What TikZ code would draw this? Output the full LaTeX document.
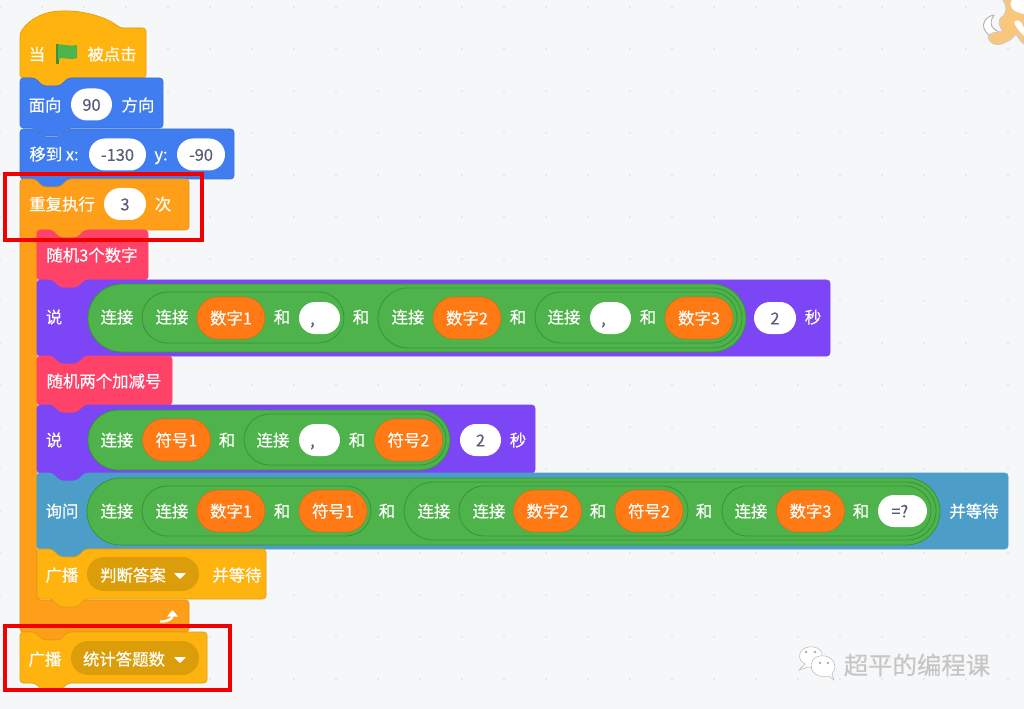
\documentclass[tikz,border=0pt]{standalone}
\usepackage{fontspec}
\setmainfont[FakeBold=0.4]{Noto Sans CJK SC}
\usetikzlibrary{positioning,fit,arrows.meta}

\definecolor{canvasgrey}{HTML}{F6F7F8}
\definecolor{dotgrey}{HTML}{DADBDD}
\definecolor{eventyellow}{HTML}{FFB30F}
\definecolor{eventedge}{HTML}{E09E10}
\definecolor{motionblue}{HTML}{407DF0}
\definecolor{motionedge}{HTML}{3A70D8}
\definecolor{controlorange}{HTML}{FF9E18}
\definecolor{controledge}{HTML}{E58E15}
\definecolor{mypink}{HTML}{FF4268}
\definecolor{looksviolet}{HTML}{7C45F5}
\definecolor{sensingblue}{HTML}{4C9EC8}
\definecolor{joingreen}{HTML}{4DB34A}
\definecolor{joinedge}{HTML}{389438}
\definecolor{varorange}{HTML}{FF7A14}
\definecolor{varedge}{HTML}{DE6A12}
\definecolor{menuyellow}{HTML}{DB9E0A}
\definecolor{slotgrey}{HTML}{575E75}
\definecolor{catpeach}{HTML}{F9C77B}

% block with a notch on top and a bump below
\newcommand{\stackblock}[5]{
  \draw[#1,shift={(#2,#3)},rounded corners=2.5pt]
    (0,0) -- (15,0) -- (23,8) -- (40,8) -- (48,0) -- (#4,0) -- (#4,#5) --
    (48,#5) -- (40,#5+8) -- (23,#5+8) -- (15,#5) -- (0,#5) -- cycle;
}

\begin{document}
\begin{tikzpicture}[
  x=0.75pt,
  y=-0.75pt,
  hatblock/.style={fill=eventyellow,draw=eventedge,line width=0.5pt},
  moveblock/.style={fill=motionblue,draw=motionedge,line width=0.5pt},
  loopblock/.style={fill=controlorange,draw=controledge,line width=0.5pt},
  ownblock/.style={fill=mypink,draw=mypink,line width=0.5pt},
  sayblock/.style={fill=looksviolet,draw=looksviolet,line width=0.5pt},
  askblock/.style={fill=sensingblue,draw=sensingblue,line width=0.5pt},
  wordlabel/.style={
    text=white,
    inner sep=0em,
    font=\fontsize{12.3pt}{14pt}\selectfont,
    text height=10.5pt,
    text depth=1pt
  },
  slotpill/.style={
    wordlabel,
    rectangle,
    rounded corners=12pt,
    fill=white,
    text=slotgrey,
    minimum width=#1*0.75pt,
    minimum height=24pt,
    outer sep=0pt
  },
  varpill/.style={
    wordlabel,
    rectangle,
    rounded corners=15.7pt,
    fill=varorange,
    draw=varedge,
    line width=0.4pt,
    minimum width=51pt,
    minimum height=31.5pt,
    outer sep=0pt
  },
  menupill/.style={
    rectangle,
    rounded corners=12.7pt,
    fill=menuyellow,
    inner sep=0em,
    outer sep=0pt
  },
  joingroup/.style={
    rectangle,
    rounded corners=#1*0.375pt,
    fill=joingreen,
    draw=joinedge,
    line width=0.6pt,
    inner sep=0em,
    outer sep=0pt
  },
  redframe/.style={
    rectangle,
    draw=red!95!black,
    line width=2.4pt,
    inner sep=0em,
    outer sep=0pt
  }]
  \fill[canvasgrey] (0,0) rectangle (1024,709);
  \useasboundingbox (0,0) rectangle (1024,709);
  \foreach \col in {0,...,24}
    \foreach \row in {0,...,16}
      \fill[dotgrey] (42*\col,7+42*\row) circle (0.6pt);

  % sprite in the corner
  \draw[gray!60,fill=white,line width=0.7pt] (994,15) .. controls (982,17) and (979,30) .. (992,37)
    -- (1000,32) .. controls (992,30) and (988,24) .. (994,15);
  \draw[gray!40,fill=catpeach,line width=0.7pt] (1024,0) -- (1003,0) .. controls (1006,6) and (1008,10) .. (1003,16)
    .. controls (996,20) and (1000,28) .. (1003,31) .. controls (996,32) and (988,33) .. (988,37)
    .. controls (990,46) and (1000,46) .. (1006,42) .. controls (1012,40) and (1014,36) .. (1016,34)
    .. controls (1018,38) and (1021,42) .. (1024,44) -- cycle;
  \fill[white] (1024,0) -- (1012,0) .. controls (1008,6) and (1012,12) .. (1024,14) -- cycle;
  \fill[white] (1014,22) .. controls (1018,18) and (1022,22) .. (1024,28) -- (1024,36) .. controls (1020,32) and (1016,28) .. (1014,22);

  % when flag clicked
  \draw[hatblock,rounded corners=2.5pt] (20,78) -- (20,33) .. controls (30,18) and (46,11) .. (64,11)
    .. controls (86,11) and (108,18) .. (120,28) -- (146,28) -- (146,78) -- (68,78) -- (60,87) -- (43,87) -- (35,78) -- cycle;
  \node[wordlabel] (hatWhen) at (37,54) {当};
  \draw[joinedge,line width=1.6pt] (57.5,44) -- (57.5,64);
  \fill[joingreen] (58,45) .. controls (63,43) and (67,47) .. (77,45) -- (77,58) .. controls (68,61) and (63,56) .. (58,59) -- cycle;
  \node[wordlabel] (hatClick) at (112,54) {被点击};

  \stackblock{moveblock}{20}{78}{143}{50}
  \node[wordlabel] (faceText) at (45,105) {面向};
  \node[slotpill=41] (faceSlot) at (91.5,104.5) {90};
  \node[wordlabel] (faceDir) at (138,105) {方向};

  \stackblock{moveblock}{20}{129}{214}{50}
  \node[wordlabel] (gotoText) at (54,154) {移到 x:};
  \node[slotpill=57] (gotoX) at (117.5,154.5) {-130};
  \node[wordlabel] (gotoY) at (161,154) {y:};
  \node[slotpill=48] (gotoYSlot) at (201,154.5) {-90};

  % repeat block
  \draw[loopblock,shift={(20,179)},rounded corners=2.5pt]
    (0,0) -- (15,0) -- (23,8) -- (40,8) -- (48,0) -- (169,0) -- (169,51) -- (65,51) -- (57,59) -- (40,59) -- (32,51) --
    (17,51) -- (17,421) -- (169,421) -- (169,453) -- (48,453) -- (40,461) -- (23,461) -- (15,453) -- (0,453) -- cycle;
  \node[wordlabel] (loopText) at (62,204) {重复执行};
  \node[slotpill=42] (loopSlot) at (125,204) {3};
  \node[wordlabel] (loopTimes) at (163,204) {次};
  \draw[white,line width=1.8pt,-{Triangle[width=8pt,length=5pt]}] (160,621.5) .. controls (168,622) and (172.5,618) .. (172.5,610);

  \stackblock{ownblock}{37}{230}{111}{50}
  \node[wordlabel] (ownDigits) at (92,255) {随机3个数字};

  % say the three numbers
  \stackblock{sayblock}{37}{280}{793}{76}
  \node[wordlabel] (sayA) at (54,317) {说};
  \node[joingroup=68,fit={(88,284)(746,352)}] (sayAjoin) {};
  \node[wordlabel] (sayAjoinText) at (117,317) {连接};
  \node[joingroup=51,fit={(142,292)(344,343)}] (sayAleft) {};
  \node[wordlabel] (sayAleftText) at (172,317) {连接};
  \node[varpill] (sayAnumA) at (231,318) {数字1};
  \node[wordlabel] (sayAandA) at (282,317) {和};
  \node[slotpill=41] (sayAcommaA) at (319.5,318) {,\hspace*{10.5pt}};
  \node[wordlabel] (sayAandB) at (361,317) {和};
  \node[joingroup=60,fit={(378,288)(742,348)}] (sayAright) {};
  \node[wordlabel] (sayArightText) at (408,317) {连接};
  \node[varpill] (sayAnumB) at (467,318) {数字2};
  \node[wordlabel] (sayAandC) at (518,317) {和};
  \node[joingroup=51,fit={(535,292)(737,343)}] (sayAinner) {};
  \node[wordlabel] (sayAinnerText) at (564,317) {连接};
  \node[slotpill=41] (sayAcommaB) at (610.5,318) {,\hspace*{10.5pt}};
  \node[wordlabel] (sayAandD) at (648,317) {和};
  \node[varpill] (sayAnumC) at (699,318) {数字3};
  \node[slotpill=42] (sayAsecs) at (775,318) {2};
  \node[wordlabel] (sayAsecText) at (813,317) {秒};

  \stackblock{ownblock}{37}{356}{135}{49}
  \node[wordlabel] (ownSigns) at (104,381) {随机两个加减号};

  % say the two signs
  \stackblock{sayblock}{37}{405}{498}{68}
  \node[wordlabel] (sayB) at (54,440) {说};
  \node[joingroup=60,fit={(88,410)(450,470)}] (sayBjoin) {};
  \node[wordlabel] (sayBjoinText) at (117,440) {连接};
  \node[varpill] (sayBsignA) at (176.5,440) {符号1};
  \node[wordlabel] (sayBandA) at (227,440) {和};
  \node[joingroup=51,fit={(244,414)(446,465)}] (sayBinner) {};
  \node[wordlabel] (sayBinnerText) at (273,440) {连接};
  \node[slotpill=41] (sayBcomma) at (319.5,440) {,\hspace*{10.5pt}};
  \node[wordlabel] (sayBandB) at (357,440) {和};
  \node[varpill] (sayBsignB) at (408.5,440) {符号2};
  \node[slotpill=41] (sayBsecs) at (480.5,440) {2};
  \node[wordlabel] (sayBsecText) at (518,440) {秒};

  % ask the question
  \stackblock{askblock}{37}{473}{971}{76}
  \node[wordlabel] (askText) at (62,511) {询问};
  \node[joingroup=67,fit={(87,478)(940,545)}] (askJoin) {};
  \node[wordlabel] (askJoinText) at (117,511) {连接};
  \node[joingroup=50,fit={(142,486)(371,536)}] (askLeft) {};
  \node[wordlabel] (askLeftText) at (172,511) {连接};
  \node[varpill] (askNumA) at (231,511) {数字1};
  \node[wordlabel] (askAndA) at (282,511) {和};
  \node[varpill] (askSignA) at (333,511) {符号1};
  \node[wordlabel] (askAndB) at (387,511) {和};
  \node[joingroup=58,fit={(404,482)(936,540)}] (askRight) {};
  \node[wordlabel] (askRightText) at (434,511) {连接};
  \node[joingroup=50,fit={(459,486)(688,536)}] (askMid) {};
  \node[wordlabel] (askMidText) at (489,511) {连接};
  \node[varpill] (askNumB) at (547.5,511) {数字2};
  \node[wordlabel] (askAndC) at (598,511) {和};
  \node[varpill] (askSignB) at (649,511) {符号2};
  \node[wordlabel] (askAndD) at (704,511) {和};
  \node[joingroup=50,fit={(722,486)(931,536)}] (askEnd) {};
  \node[wordlabel] (askEndText) at (751,511) {连接};
  \node[varpill] (askNumC) at (810.5,511) {数字3};
  \node[wordlabel] (askAndE) at (861,511) {和};
  \node[slotpill=49] (askEquals) at (902.5,511) {=?\hspace*{4pt}};
  \node[wordlabel] (askWait) at (974,511) {并等待};

  % broadcasts
  \stackblock{hatblock}{37}{549}{229}{50}
  \node[wordlabel] (sendText) at (62,575) {广播};
  \node[menupill,fit={(87,557)(199,591)}] (sendMenu) {};
  \node[wordlabel] (sendName) at (133,575) {判断答案};
  \fill[white,rounded corners=0.5pt] (174,573) -- (186,573) -- (180,579) -- cycle;
  \node[wordlabel] (sendWait) at (237,575) {并等待};

  \stackblock{hatblock}{20}{632}{187}{51}
  \node[wordlabel] (lastText) at (45,659) {广播};
  \node[menupill,fit={(71,641)(199,675)}] (lastMenu) {};
  \node[wordlabel] (lastName) at (124,659) {统计答题数};
  \fill[white,rounded corners=0.5pt] (174,657) -- (186,657) -- (180,663) -- cycle;

  \node[redframe,fit={(5,174)(202,240)}] (frameLoop) {};
  \node[redframe,fit={(5,626)(230,690)}] (frameLast) {};

  % watermark
  \draw[gray!55,fill=white,line width=0.4pt] (801,661) -- (805,664) -- (799,670) -- (808,667)
    .. controls (822,670) and (824,655) .. (821,651) .. controls (814,642) and (794,648) .. (801,661);
  \draw[gray!55,fill=white,line width=0.4pt] (829,676) -- (834,680) -- (832,674)
    .. controls (840,664) and (830,654) .. (820,656) .. controls (806,658) and (808,680) .. (829,676);
  \foreach \dotx/\doty in {806/652,815/652,820/663,828/663}
    \fill[gray!65] (\dotx,\doty) circle (1.1pt);
  \node[inner sep=0em,text=gray!45,font=\fontsize{18.3pt}{20pt}\selectfont] (markText) at (917,665) {超平的编程课};
\end{tikzpicture}
\end{document}
